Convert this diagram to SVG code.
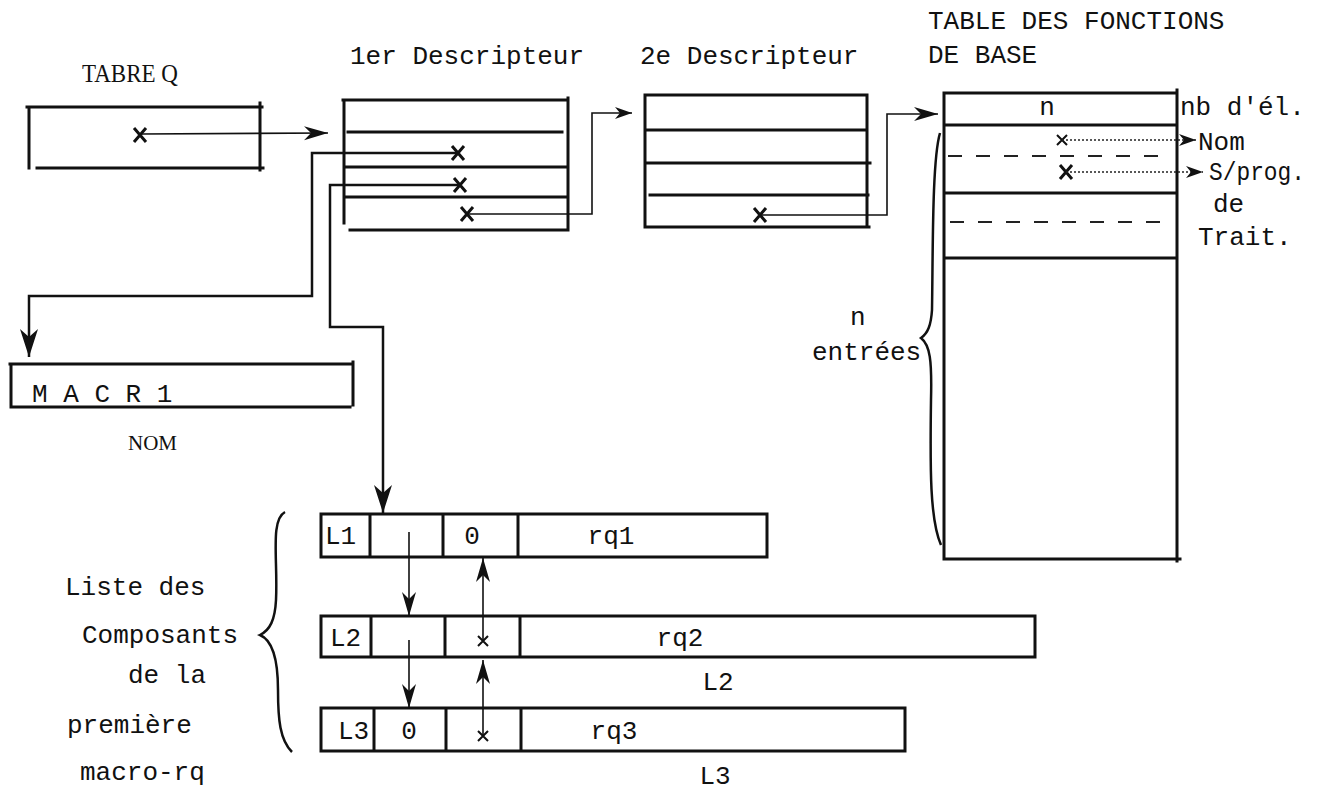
<svg xmlns="http://www.w3.org/2000/svg" width="1317" height="793" viewBox="0 0 1317 793">
<defs>
<marker id="ah" markerUnits="userSpaceOnUse" markerWidth="26" markerHeight="16" refX="24" refY="8" orient="auto">
<path d="M0,1 L24,8 L0,15 L7,8 z" fill="#111"/>
</marker>
<marker id="ahb" markerUnits="userSpaceOnUse" markerWidth="30" markerHeight="20" refX="28" refY="10" orient="auto">
<path d="M0,1 L28,10 L0,19 L8,10 z" fill="#111"/>
</marker>
<marker id="ahs" markerUnits="userSpaceOnUse" markerWidth="18" markerHeight="12" refX="17" refY="6" orient="auto">
<path d="M0,0 L17,6 L0,12 L5,6 z" fill="#111"/>
</marker>
<path id="xm" d="M-6,-7 L6,7 M6,-7 L-6,7" stroke="#111" stroke-width="3" fill="none"/>
<path id="xs" d="M-5,-5 L5,5 M5,-5 L-5,5" stroke="#111" stroke-width="2" fill="none"/>
</defs>
<style>
.box{fill:none;stroke:#111;stroke-width:3;stroke-linecap:square}
.ln{fill:none;stroke:#111;stroke-width:2.5}
.thin{fill:none;stroke:#111;stroke-width:1.6}
.dot{fill:none;stroke:#222;stroke-width:1.5;stroke-dasharray:2 2}
.dash{fill:none;stroke:#222;stroke-width:2;stroke-dasharray:14 14}
.mono{font-family:"Liberation Mono","DejaVu Sans Mono",monospace;font-size:26px;fill:#111}
.serif{font-family:"Liberation Serif","DejaVu Serif",serif;fill:#111}
</style>
<rect width="1317" height="793" fill="#fff"/>

<g id="tabreq">
<text class="serif" x="82" y="82" font-size="26" textLength="96" lengthAdjust="spacingAndGlyphs">TABRE Q</text>
<path class="box" d="M27,107 H262 M29,107 V168 M260,103 V170 M37,168 H263"/>
</g>

<g id="desc1">
<text class="mono" x="350" y="64">1er Descripteur</text>
<path class="box" d="M343,100 H568 M344,100 V223 M568,98 V230 M350,230 H568 M348,132 H562 M345,167 H568 M345,197 H568"/>
</g>

<g id="desc2">
<text class="mono" x="640" y="64">2e Descripteur</text>
<path class="box" d="M645,95 H867 M645,95 V227 M867,95 V227 M648,227 H869 M648,130 H867 M648,163 H870 M650,195 H868"/>
</g>

<g id="table">
<text class="mono" x="928" y="29">TABLE DES FONCTIONS</text>
<text class="mono" x="928" y="63">DE BASE</text>
<path class="box" d="M944,93 H1177 M944,93 V559 M1177,90 V561 M946,559 H1180 M944,125 H1177 M944,193 H1177 M944,258 H1177"/>
<path class="dash" d="M948,156 H1172"/>
<path class="dash" stroke-width="1.5" d="M950,222 H1165"/>
<text class="mono" x="1047" y="115" text-anchor="middle">n</text>
<text class="mono" x="1180" y="115">nb d'él.</text>
<text class="mono" x="1198" y="150">Nom</text>
<text class="mono" x="1209" y="180" textLength="96" lengthAdjust="spacingAndGlyphs">S/prog.</text>
<text class="mono" x="1213" y="212">de</text>
<text class="mono" x="1198" y="245">Trait.</text>
<path class="ln" d="M940,133 C932,160 933,250 932,310 C931,325 928,333 921,338 C930,345 932,360 931,400 C930,470 930,520 941,545"/>
<text class="mono" x="850" y="325">n</text>
<text class="mono" x="812" y="360">entrées</text>
</g>

<g id="macr1">
<path class="box" d="M10,364 H353 M11,364 V407 M353,362 V405 M12,407 H350"/>
<text class="mono" x="32" y="402">M A C R 1</text>
<text class="serif" x="128" y="450" font-size="21">NOM</text>
</g>

<g id="row1">
<path class="box" d="M321,514 H767 V557 H321 Z M370,514 V557 M443,514 V557 M518,514 V557"/>
<text class="mono" x="325" y="544">L1</text>
<text class="mono" x="472" y="544" text-anchor="middle">0</text>
<text class="mono" x="611" y="544" text-anchor="middle">rq1</text>
</g>

<g id="row2">
<path class="box" d="M321,616 H1035 V657 H321 Z M371,616 V657 M445,616 V657 M520,616 V657"/>
<text class="mono" x="330" y="646">L2</text>
<text class="mono" x="680" y="646" text-anchor="middle">rq2</text>
<text class="mono" x="718" y="690" text-anchor="middle">L2</text>
</g>

<g id="row3">
<path class="box" d="M321,708 H905 V751 H321 Z M374,708 V751 M446,708 V751 M521,708 V751"/>
<text class="mono" x="338" y="739">L3</text>
<text class="mono" x="409" y="739" text-anchor="middle">0</text>
<text class="mono" x="614" y="739" text-anchor="middle">rq3</text>
<text class="mono" x="715" y="784" text-anchor="middle">L3</text>
</g>

<g id="legend">
<path class="ln" d="M285,512 C270,520 278,560 276,600 C275,620 270,630 260,635 C272,640 278,660 278,690 C278,720 280,740 292,752"/>
<text class="mono" x="65" y="595">Liste des</text>
<text class="mono" x="82" y="643">Composants</text>
<text class="mono" x="128" y="683">de la</text>
<text class="mono" x="67" y="733">première</text>
<text class="mono" x="80" y="780">macro-rq</text>
</g>

<g id="connectors">
<use href="#xm" x="140" y="135"/>
<path class="thin" stroke-width="2" d="M140,134 L328,133" marker-end="url(#ah)"/>
<use href="#xm" x="458" y="153"/>
<path class="ln" d="M458,153 H312 V296 H29 V357" marker-end="url(#ahb)"/>
<use href="#xm" x="460" y="185"/>
<path class="ln" d="M460,185 H330 V327 H383 V513" marker-end="url(#ahb)"/>
<use href="#xm" x="467" y="214"/>
<path class="thin" d="M467,214 H592 V113 H632" marker-end="url(#ahs)"/>
<use href="#xm" x="760" y="215"/>
<path class="thin" stroke-width="2" d="M760,215 H887 V114 H938" marker-end="url(#ah)"/>
<use href="#xs" x="1062" y="140"/>
<path class="dot" d="M1062,140 H1196" marker-end="url(#ahs)"/>
<use href="#xm" x="1066" y="172"/>
<path class="dot" d="M1066,172 H1203" marker-end="url(#ahs)"/>
<path class="thin" d="M409,532 V616" marker-end="url(#ah)"/>
<path class="thin" d="M409,640 V708" marker-end="url(#ah)"/>
<use href="#xs" x="483" y="641"/>
<path class="thin" stroke-width="2" d="M483,641 V558" marker-end="url(#ah)"/>
<use href="#xs" x="483" y="736"/>
<path class="thin" stroke-width="2" d="M483,736 V660" marker-end="url(#ah)"/>
</g>
</svg>
